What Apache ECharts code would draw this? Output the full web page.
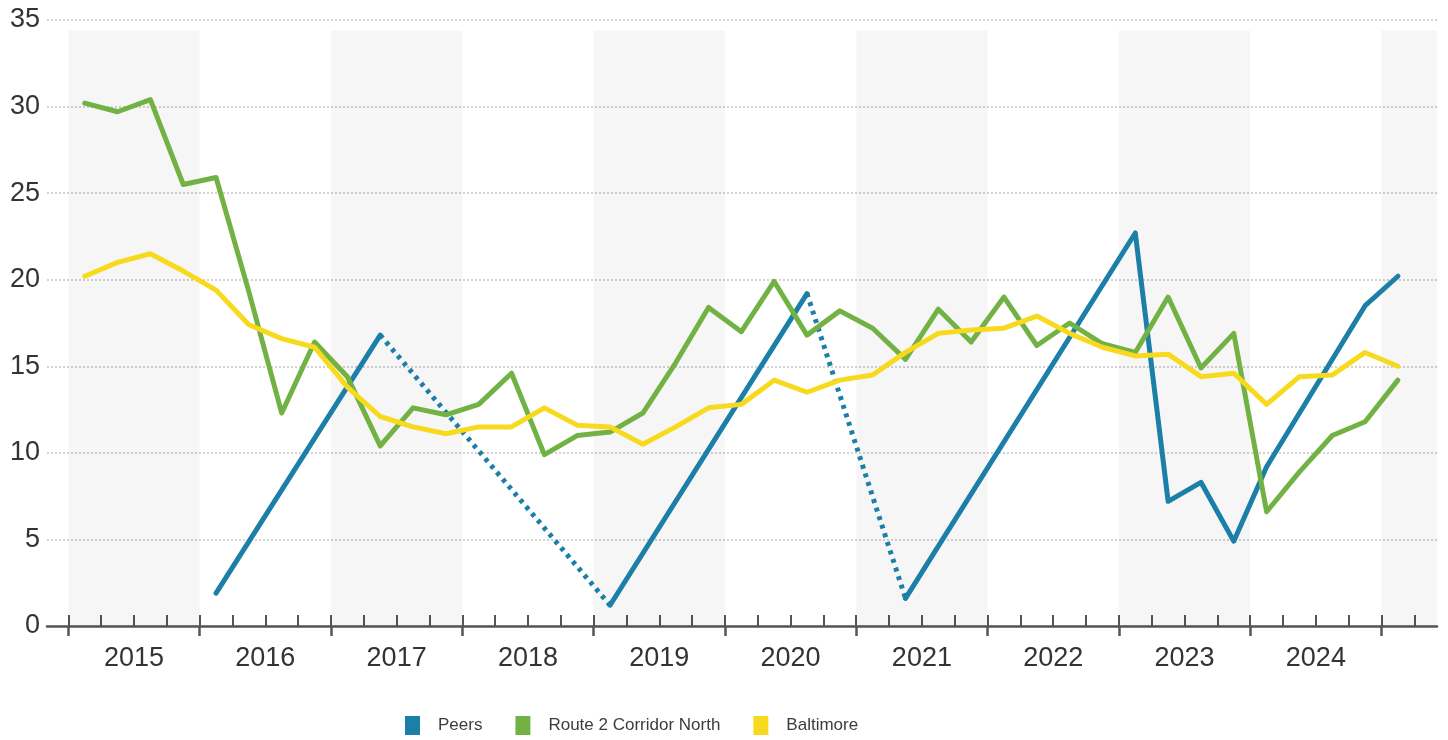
<!DOCTYPE html>
<html>
<head>
<meta charset="utf-8">
<title>Quarterly rate: Peers, Route 2 Corridor North, Baltimore</title>
<script src="https://cdn.jsdelivr.net/npm/echarts@6/dist/echarts.min.js"></script>
<style>
  html, body { margin: 0; padding: 0; background: #ffffff; }
  #chart { width: 1448px; height: 740px; }
</style>
</head>
<body>
<div id="chart"></div>
<script>
// Quarterly series, 2015 Q1 through 2025 Q1 (41 quarters).
const yearLabels = ['2015', '2016', '2017', '2018', '2019', '2020', '2021', '2022', '2023', '2024'];
const firstYear = 2015;

const peers = [
  null, null, null, null, 1.9, null, null, null,
  null, 16.8, null, null, null, null, null, null,
  1.2, null, null, null, null, null, 19.2, null,
  null, 1.6, null, null, null, null, null, null,
  22.7, 7.2, 8.3, 4.9, 9.2, null, null, 18.5,
  20.2
];
// Stretches where Peers has no reported quarters (drawn dotted between the reported ends).
const peersGapSpans = [[9, 16], [22, 25]];

const route2North = [
  30.2, 29.7, 30.4, 25.5, 25.9, 19.3, 12.3, 16.4,
  14.4, 10.4, 12.6, 12.2, 12.8, 14.6, 9.9, 11.0,
  11.2, 12.3, 15.2, 18.4, 17.0, 19.9, 16.8, 18.2,
  17.2, 15.4, 18.3, 16.4, 19.0, 16.2, 17.5, 16.3,
  15.8, 19.0, 14.9, 16.9, 6.6, 8.9, 11.0, 11.8,
  14.2
];

const baltimore = [
  20.2, 21.0, 21.5, 20.5, 19.4, 17.4, 16.6, 16.1,
  13.8, 12.1, 11.5, 11.1, 11.5, 11.5, 12.6, 11.6,
  11.5, 10.5, 11.5, 12.6, 12.8, 14.2, 13.5, 14.2,
  14.5, 15.8, 16.9, 17.1, 17.2, 17.9, 16.9, 16.1,
  15.6, 15.7, 14.4, 14.6, 12.8, 14.4, 14.5, 15.8,
  15.0
];

const COLORS = { peers: '#1b7fa7', route2: '#72b244', baltimore: '#f7da1e' };
const FONT = "'Liberation Sans', Arial, sans-serif";
const X_MIN = -0.65;   // small lead-in before 2015 Q1
const X_MAX = 41.69;   // axis runs a little past 2025 Q1
const LINE_W = 5;

// x position of a quarter is its centre: index + 0.5
const toPairs = (arr, from = 0, to = arr.length - 1) => {
  const out = [];
  for (let i = from; i <= to; i++) if (arr[i] != null) out.push([i + 0.5, arr[i]]);
  return out;
};

function lineSeries(name, color, data, dashed, extra) {
  return Object.assign({
    name, type: 'line', data,
    symbol: 'none', showSymbol: false,
    lineStyle: { color, width: LINE_W, type: dashed ? [4, 5] : 'solid', cap: dashed ? 'butt' : 'round', join: 'round' },
    itemStyle: { color },
    emphasis: { disabled: true },
    silent: true, z: 3
  }, extra || {});
}

// Peers: solid runs between the gap spans, dotted across the gaps
const peersSeries = [];
{
  let start = 0;
  peersGapSpans.forEach(([a, b]) => {
    peersSeries.push(lineSeries('Peers', COLORS.peers, toPairs(peers, start, a), false));
    peersSeries.push(lineSeries('Peers', COLORS.peers, [[a + 0.5, peers[a]], [b + 0.5, peers[b]]], true));
    start = b;
  });
  peersSeries.push(lineSeries('Peers', COLORS.peers, toPairs(peers, start), false));
}

// Alternating shaded years (2015, 2017, ... , 2025)
const bands = [];
for (let y = 0; y * 4 < X_MAX; y += 2) {
  bands.push([{ xAxis: y * 4, yAxis: 0 }, { xAxis: Math.min(y * 4 + 4, X_MAX), yAxis: 34.4 }]);
}

const quarterBounds = [];
for (let q = 0; q <= 41; q++) quarterBounds.push(q);
const yearBounds = [];
for (let q = 0; q <= 40; q += 4) yearBounds.push(q);
const yearCentres = yearLabels.map((_, k) => k * 4 + 2);

const chart = echarts.init(document.getElementById('chart'), null, { renderer: 'canvas' });
chart.setOption({
  animation: false,
  backgroundColor: '#ffffff',
  textStyle: { fontFamily: FONT },
  grid: { left: 47, right: 11, top: 20, bottom: 114, containLabel: false },
  legend: {
    bottom: 0, left: 400,
    icon: 'rect', itemWidth: 15, itemHeight: 19, itemGap: 33,
    textStyle: { fontSize: 17, color: '#3c3c3c', fontFamily: FONT, padding: [0, 0, 0, 13] },
    data: ['Peers', 'Route 2 Corridor North', 'Baltimore'],
    selectedMode: false
  },
  xAxis: [
    {
      type: 'value', min: X_MIN, max: X_MAX,
      axisLine: { show: true, lineStyle: { color: '#555555', width: 2.5 } },
      axisTick: { show: true, inside: true, length: 11, customValues: quarterBounds, lineStyle: { color: '#555555', width: 2 } },
      axisLabel: {
        show: true, customValues: yearCentres, margin: 19,
        fontSize: 27, color: '#333333', fontFamily: FONT,
        formatter: v => String(firstYear + Math.floor(v / 4))
      },
      splitLine: { show: false }
    },
    {
      type: 'value', min: X_MIN, max: X_MAX, position: 'bottom',
      axisLine: { show: false },
      axisTick: { show: true, inside: false, length: 10, customValues: yearBounds, lineStyle: { color: '#555555', width: 2.5 } },
      axisLabel: { show: false },
      splitLine: { show: false }
    }
  ],
  yAxis: {
    type: 'value', min: 0, max: 35, interval: 5,
    axisLine: { show: false },
    axisTick: { show: false },
    axisLabel: { fontSize: 27, color: '#333333', margin: 7, fontFamily: FONT },
    splitLine: { show: true, lineStyle: { color: '#c4c4c4', width: 1.5, type: [2, 2] } }
  },
  series: [
    {
      name: 'bands', type: 'line', data: [], silent: true, z: 1,
      markArea: {
        silent: true,
        itemStyle: { color: 'rgba(0,0,0,0.035)' },
        data: bands
      }
    },
    ...peersSeries,
    lineSeries('Route 2 Corridor North', COLORS.route2, toPairs(route2North), false),
    lineSeries('Baltimore', COLORS.baltimore, toPairs(baltimore), false)
  ]
});
</script>
</body>
</html>
